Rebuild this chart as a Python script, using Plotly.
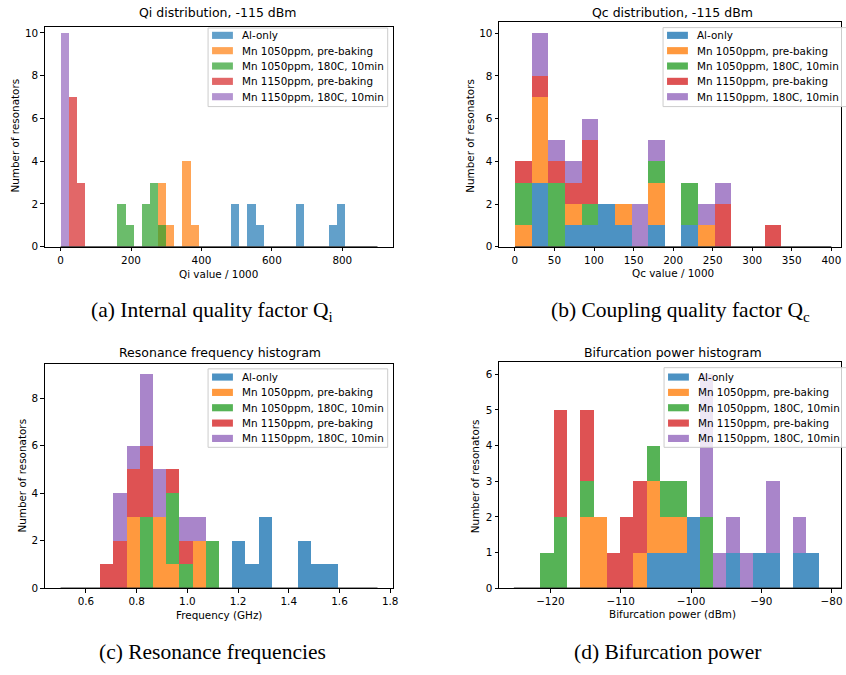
import numpy as np
import plotly.graph_objects as go

W, H = 846, 675

SERIES_NAMES = [
    "Al-only",
    "Mn 1050ppm, pre-baking",
    "Mn 1050ppm, 180C, 10min",
    "Mn 1150ppm, pre-baking",
    "Mn 1150ppm, 180C, 10min",
]
SERIES_RGB = [(31, 119, 180), (255, 127, 14), (44, 160, 44), (214, 39, 40), (148, 103, 189)]

# ---------------- (a) Qi histogram: 39 bins over 0..900 (x1000) ----------------
QI_RANGE = (0.0, 900.0)
QI_NBINS = 39
qi_al    = [0,0,0,0,0,0,0,0,0,0, 0,0,0,0,0,0,0,0,0,0, 0,2,0,2,1,0,0,0,0,2, 0,0,0,1,2,0,0,0,0]
qi_1050p = [0,0,0,0,0,0,0,0,0,0, 0,0,3,1,0,4,1,0,0,0, 0,0,0,0,0,0,0,0,0,0, 0,0,0,0,0,0,0,0,0]
qi_1050b = [0,0,0,0,0,0,0,2,1,0, 2,3,1,0,0,0,0,0,0,0, 0,0,0,0,0,0,0,0,0,0, 0,0,0,0,0,0,0,0,0]
qi_1150p = [0,7,3,0,0,0,0,0,0,0, 0,0,0,0,0,0,0,0,0,0, 0,0,0,0,0,0,0,0,0,0, 0,0,0,0,0,0,0,0,0]
qi_1150b = [10,0,0,0,0,0,0,0,0,0, 0,0,0,0,0,0,0,0,0,0, 0,0,0,0,0,0,0,0,0,0, 0,0,0,0,0,0,0,0,0]

# ---------------- (b) Qc histogram (stacked): 19 bins over 0..400 ----------------
QC_RANGE = (0.0, 400.0)
QC_NBINS = 19
qc_al    = [0,3,0,1,1,2,1,0,1,0, 1,0,0,0,0,0,0,0,0]
qc_1050p = [1,4,0,1,0,0,1,0,2,0, 0,1,0,0,0,0,0,0,0]
qc_1050b = [2,0,3,0,1,0,0,0,1,0, 2,0,0,0,0,0,0,0,0]
qc_1150p = [1,1,1,1,3,0,0,0,0,0, 0,0,2,0,0,1,0,0,0]
qc_1150b = [0,2,1,1,1,0,0,2,1,0, 0,1,1,0,0,0,0,0,0]

# ---------------- (c) Resonance frequency (stacked): 24 bins over 0.5..1.75 GHz ----------------
FR_RANGE = (0.5, 1.75)
FR_NBINS = 24
fr_al    = [0,0,0,0,0,0,0,0,0,0, 0,0,0,2,1,3,0,0,2,1, 1,0,0,0]
fr_1050p = [0,0,0,0,0,3,0,3,1,0, 2,0,0,0,0,0,0,0,0,0, 0,0,0,0]
fr_1050b = [0,0,0,0,0,0,3,0,3,1, 0,2,0,0,0,0,0,0,0,0, 0,0,0,0]
fr_1150p = [0,0,0,1,2,2,3,0,1,1, 0,0,0,0,0,0,0,0,0,0, 0,0,0,0]
fr_1150b = [0,0,0,0,2,1,3,2,0,1, 1,0,0,0,0,0,0,0,0,0, 0,0,0,0]

# ---------------- (d) Bifurcation power (stacked): 26 bins over -125.2..-76.06 dBm ----------------
PB_RANGE = (-125.2, -76.06)
PB_NBINS = 26
pb_al    = [0,0,0,0,0,0,0,0,0,0, 1,1,1,2,0,0,1,0,1,1, 0,1,1,0,0,0]
pb_1050p = [0,0,0,0,0,2,2,0,0,1, 2,1,1,0,0,0,0,0,0,0, 0,0,0,0,0,0]
pb_1050b = [0,0,1,2,0,1,0,0,0,0, 1,1,1,0,2,0,0,0,0,0, 0,0,0,0,0,0]
pb_1150p = [0,0,0,3,0,2,0,1,2,2, 0,0,0,0,0,0,0,0,0,0, 0,0,0,0,0,0]
pb_1150b = [0,0,0,0,0,0,0,0,0,0, 0,0,0,0,4,1,1,1,0,2, 0,1,0,0,0,0]

TITLES = ["Qi distribution, -115 dBm", "Qc distribution, -115 dBm",
          "Resonance frequency histogram", "Bifurcation power histogram"]
XLABELS = ["Qi value / 1000", "Qc value / 1000", "Frequency (GHz)", "Bifurcation power (dBm)"]
YLABEL = "Number of resonators"
CAPTIONS = ["(a) Internal quality factor Q<sub>i</sub>", "(b) Coupling quality factor Q<sub>c</sub>",
            "(c) Resonance frequencies", "(d) Bifurcation power"]

X_TICKS = [[0, 200, 400, 600, 800],
           [0, 50, 100, 150, 200, 250, 300, 350, 400],
           [0.6, 0.8, 1.0, 1.2, 1.4, 1.6, 1.8],
           [-120, -110, -100, -90, -80]]
Y_TICKS = [[0, 2, 4, 6, 8, 10], [0, 2, 4, 6, 8, 10], [0, 2, 4, 6, 8], [0, 1, 2, 3, 4, 5, 6]]

# ---------------- layout geometry (pixels) ----------------
FONT = "DejaVu Sans"
TICK_SIZE = 10.4
TITLE_SIZE = 12.5
CAP_FONT = "Liberation Serif"
CAP_SIZE = 21.5
ROW_STEP = 15.5

panels = [
    dict(rng=QI_RANGE, n=QI_NBINS, counts=[qi_al, qi_1050p, qi_1050b, qi_1150p, qi_1150b],
         stacked=False, alpha=0.7, xdom=(45, 395.7), ydom=(26.7, 248.3),
         xrange=[-45, 945], yrange=[0, 10.26], xfmt="",
         title=(219, 11.7), xlab=(220, 275.7), ylab=(15, 136), cap=(213, 314),
         leg_box=(209.3, 27.3, 390, 106.7), leg_row0=34.7),
    dict(rng=QC_RANGE, n=QC_NBINS, counts=[qc_al, qc_1050p, qc_1050b, qc_1150p, qc_1150b],
         stacked=True, alpha=0.8, xdom=(502, 846), ydom=(21.7, 248.3),
         xrange=[-20.1, 412.2], yrange=[0, 10.5], xfmt="",
         title=(677, 11.7), xlab=(677, 275.3), ylab=(472, 136), cap=(685, 314),
         leg_box=(667, 26.9, 852, 106.7), leg_row0=34.7),
    dict(rng=FR_RANGE, n=FR_NBINS, counts=[fr_al, fr_1050p, fr_1050b, fr_1150p, fr_1150b],
         stacked=True, alpha=0.8, xdom=(45, 395.7), ydom=(367.3, 593.3),
         xrange=[0.4375, 1.8125], yrange=[0, 9.42], xfmt=".1f",
         title=(221, 355), xlab=(220.7, 620), ylab=(21.7, 480), cap=(214, 658),
         leg_box=(209.3, 371.7, 390, 451), leg_row0=380),
    dict(rng=PB_RANGE, n=PB_NBINS, counts=[pb_al, pb_1050p, pb_1050b, pb_1150p, pb_1150b],
         stacked=True, alpha=0.8, xdom=(502, 846), ydom=(365, 593.3),
         xrange=[-127.31, -78.66], yrange=[0, 6.34], xfmt="",
         title=(677, 355), xlab=(677, 619.3), ylab=(478, 480), cap=(671, 658),
         leg_box=(668, 370.5, 852, 451), leg_row0=380),
]


def fx(p):
    return p / W


def fy(p):
    return 1 - p / H


fig = go.Figure()
layout = dict(
    width=W, height=H, margin=dict(l=0, r=0, t=0, b=0),
    paper_bgcolor="white", plot_bgcolor="white",
    barmode="overlay", bargap=0, showlegend=False,
    font=dict(family=FONT, size=TICK_SIZE, color="black"),
)
annotations = []
shapes = []

for i, p in enumerate(panels):
    k = i + 1
    xa, ya = f"x{k}", f"y{k}"
    edges = np.linspace(p["rng"][0], p["rng"][1], p["n"] + 1)
    centers = (edges[:-1] + edges[1:]) / 2
    widths = np.diff(edges)
    base = np.zeros(p["n"])
    colors = []
    for s, (name, rgb, cnt) in enumerate(zip(SERIES_NAMES, SERIES_RGB, p["counts"])):
        cnt = np.asarray(cnt, dtype=float)
        yv = [c if c > 0 else None for c in cnt]
        color = f"rgba({rgb[0]},{rgb[1]},{rgb[2]},{p['alpha']})"
        colors.append(color)
        fig.add_trace(go.Bar(
            x=centers, y=yv, base=(base.copy() if p["stacked"] else None), width=widths,
            name=name, marker=dict(color=color, line=dict(width=0)),
            xaxis=xa, yaxis=ya, showlegend=False, hoverinfo="skip",
        ))
        if p["stacked"]:
            base = base + cnt
    # dark baseline where the histogram bins lie
    fig.add_trace(go.Scatter(
        x=[edges[0], edges[-1]], y=[0, 0], mode="lines",
        line=dict(color="#333333", width=1.4), showlegend=False,
        hoverinfo="skip", cliponaxis=False, xaxis=xa, yaxis=ya,
    ))

    axis_common = dict(
        showline=True, linecolor="black", linewidth=1, mirror=True,
        ticks="outside", ticklen=3.5, tickwidth=1, tickcolor="black",
        showgrid=False, zeroline=False,
        tickfont=dict(family=FONT, size=TICK_SIZE, color="black"),
    )
    layout[f"xaxis{k}"] = dict(
        axis_common, domain=[fx(p["xdom"][0]), fx(p["xdom"][1])],
        range=p["xrange"], tickvals=X_TICKS[i], anchor=ya,
        **({"tickformat": p["xfmt"]} if p["xfmt"] else {}),
    )
    layout[f"yaxis{k}"] = dict(
        axis_common, domain=[fy(p["ydom"][1]), fy(p["ydom"][0])],
        range=p["yrange"], tickvals=Y_TICKS[i], anchor=xa,
    )

    # matplotlib-style legend (frame, swatches, labels)
    bx0, by0, bx1, by1 = p["leg_box"]
    shapes.append(dict(type="rect", xref="paper", yref="paper", layer="above",
                       x0=fx(bx0), x1=fx(bx1), y0=fy(by1), y1=fy(by0),
                       fillcolor="rgba(255,255,255,0.8)",
                       line=dict(color="#cccccc", width=1)))
    for s, name in enumerate(SERIES_NAMES):
        ry = p["leg_row0"] + s * ROW_STEP
        shapes.append(dict(type="rect", xref="paper", yref="paper", layer="above",
                           x0=fx(bx0 + 4), x1=fx(bx0 + 25), y0=fy(ry + 3.6), y1=fy(ry - 3.6),
                           fillcolor=colors[s], line=dict(width=0)))
        annotations.append(dict(text=name, x=fx(bx0 + 32.5), y=fy(ry),
                                xref="paper", yref="paper", showarrow=False,
                                xanchor="left", yanchor="middle",
                                font=dict(family=FONT, size=TICK_SIZE, color="black")))

    annotations.append(dict(text=TITLES[i], x=fx(p["title"][0]), y=fy(p["title"][1]),
                            xref="paper", yref="paper", showarrow=False,
                            xanchor="center", yanchor="middle",
                            font=dict(family=FONT, size=TITLE_SIZE, color="black")))
    annotations.append(dict(text=XLABELS[i], x=fx(p["xlab"][0]), y=fy(p["xlab"][1]),
                            xref="paper", yref="paper", showarrow=False,
                            xanchor="center", yanchor="middle",
                            font=dict(family=FONT, size=TICK_SIZE, color="black")))
    annotations.append(dict(text=YLABEL, x=fx(p["ylab"][0]), y=fy(p["ylab"][1]),
                            xref="paper", yref="paper", showarrow=False, textangle=-90,
                            xanchor="center", yanchor="middle",
                            font=dict(family=FONT, size=TICK_SIZE, color="black")))
    annotations.append(dict(text=CAPTIONS[i], x=fx(p["cap"][0]), y=fy(p["cap"][1]),
                            xref="paper", yref="paper", showarrow=False,
                            xanchor="center", yanchor="middle",
                            font=dict(family=CAP_FONT, size=CAP_SIZE, color="black")))

layout["annotations"] = annotations
layout["shapes"] = shapes
fig.update_layout(**layout)
fig.write_html(
    "out.html",
    config={"displayModeBar": False, "staticPlot": True},
    post_script="document.body.style.margin='0px';document.body.style.overflow='hidden';",
)
